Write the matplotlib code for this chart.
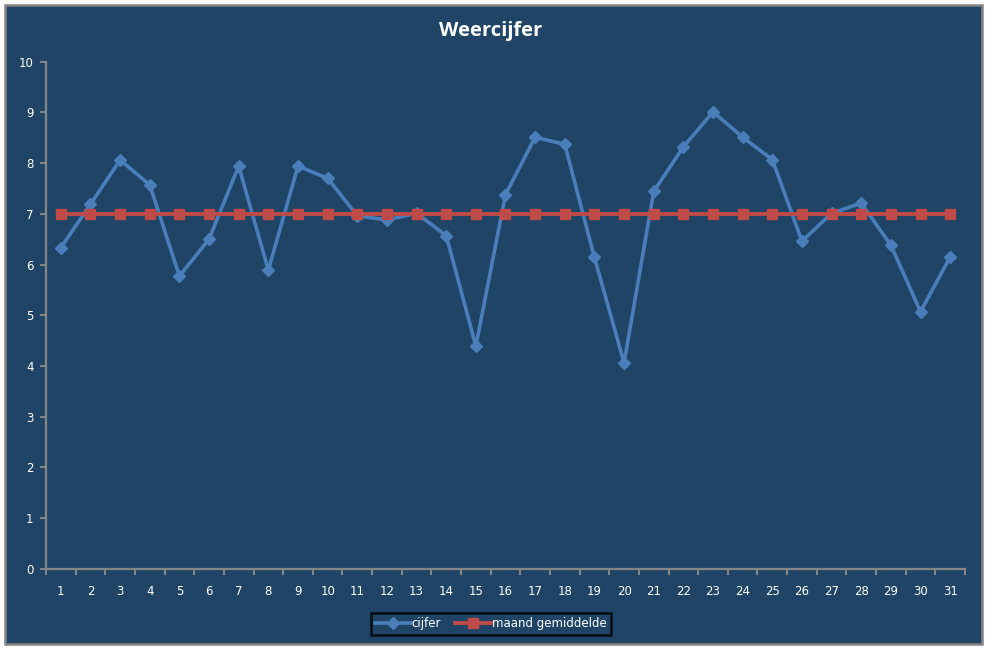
import matplotlib
matplotlib.use("Agg")
import matplotlib.pyplot as plt
from matplotlib.patches import Rectangle

days = list(range(1, 32))
cijfer = [6.33, 7.19, 8.06, 7.57, 5.77, 6.50, 7.94, 5.89, 7.94, 7.70,
          6.96, 6.88, 7.01, 6.57, 4.39, 7.38, 8.51, 8.37, 6.14, 4.06,
          7.44, 8.32, 9.01, 8.51, 8.07, 6.46, 7.01, 7.21, 6.38, 5.07, 6.15]
gemiddelde = [6.99] * 31
title = "Weercijfer"
series_names = ["cijfer", "maand gemiddelde"]

W, H = 987, 648
bg = "#1F4466"
fig = plt.figure(figsize=(W / 100, H / 100), dpi=100, facecolor="white")
fig.patches.append(Rectangle((5 / W, 4 / H), (982 - 5) / W, (644 - 5) / H,
                             transform=fig.transFigure, facecolor=bg,
                             edgecolor="#848484", linewidth=1.8, zorder=-10))

x0, x1 = 46, 965
ytop, ybot = 61.7, 568.7
ax = fig.add_axes([x0 / W, (H - ybot) / H, (x1 - x0) / W, (ybot - ytop) / H])
ax.set_facecolor(bg)
ax.patch.set_alpha(0)

l1, = ax.plot(days, cijfer, color="#4A7EBB", lw=2.6, marker="D", ms=6.5,
              label=series_names[0], zorder=3)
l2, = ax.plot(days, gemiddelde, color="#BE4B48", lw=2.8, marker="s", ms=7.5,
              label=series_names[1], zorder=4)

ax.set_xlim(0.5, 31.5)
ax.set_ylim(0, 10)
ax.set_yticks(range(0, 11))
ax.set_xticks(days)
ax.set_xticks([d + 0.5 for d in range(0, 32)], minor=True)

for s in ["top", "right"]:
    ax.spines[s].set_visible(False)
for s in ["left", "bottom"]:
    ax.spines[s].set_color("#868686")
    ax.spines[s].set_linewidth(1.6)

ax.tick_params(axis="x", which="major", length=0, pad=12, labelsize=8.5,
               labelcolor="white")
ax.tick_params(axis="x", which="minor", length=4, width=1.4, color="#868686",
               direction="out")
ax.tick_params(axis="y", which="major", length=4, width=1.4, color="#868686",
               direction="out", pad=5, labelsize=8.5, labelcolor="white")
for lab in ax.get_xticklabels() + ax.get_yticklabels():
    lab.set_fontfamily("DejaVu Sans")

fig.text(491 / W, 1 - 31 / H, title, ha="center", va="center",
         fontsize=14.5, fontweight="bold", color="white", family="Open Sans")

leg = fig.legend(handles=[l1, l2], loc="center", bbox_to_anchor=(491 / W, 1 - 624 / H),
                 ncol=2, frameon=True, fontsize=8.5, handlelength=3.0,
                 handletextpad=0.1, columnspacing=1.2, borderpad=0.35,
                 fancybox=False, numpoints=1)
leg.get_frame().set_facecolor(bg)
leg.get_frame().set_edgecolor("black")
leg.get_frame().set_linewidth(1.8)
for t in leg.get_texts():
    t.set_color("white")

fig.savefig("out.png", dpi=100, facecolor="white")
